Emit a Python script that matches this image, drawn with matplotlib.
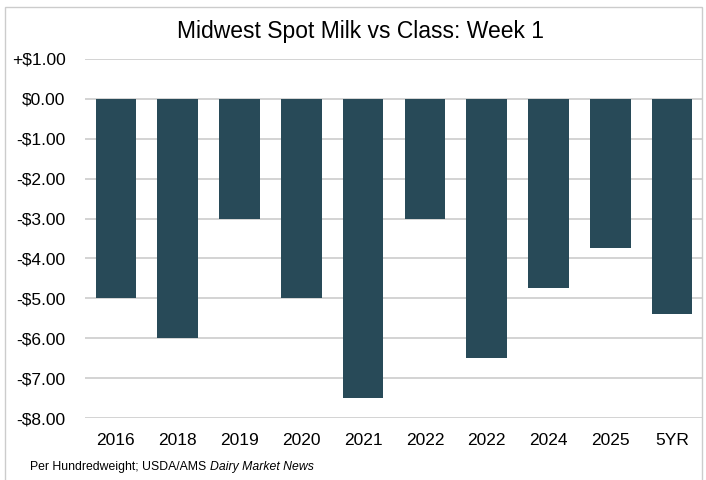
import matplotlib
matplotlib.use("Agg")
import matplotlib.pyplot as plt
from matplotlib.patches import Rectangle

categories = ["2016", "2018", "2019", "2020", "2021", "2022", "2022", "2024", "2025", "5YR"]
values = [-5.0, -6.0, -3.0, -5.0, -7.5, -3.0, -6.5, -4.75, -3.75, -5.4]
yticks = [1, 0, -1, -2, -3, -4, -5, -6, -7, -8]
ytick_labels = ["+$1.00", "$0.00", "-$1.00", "-$2.00", "-$3.00", "-$4.00",
                "-$5.00", "-$6.00", "-$7.00", "-$8.00"]

plt.rcParams['font.family'] = ['Liberation Sans', 'DejaVu Sans']

fig = plt.figure(figsize=(7.06, 4.8), dpi=100)
ax = fig.add_axes([85 / 706, 62 / 480, 618 / 706, 359 / 480])

x = list(range(len(categories)))
ax.bar(x, values, width=0.66, color="#284a58", zorder=3)

ax.set_xlim(-0.5, len(categories) - 0.5)
ax.set_ylim(-8, 1)
ax.set_yticks(yticks)
ax.set_yticklabels(ytick_labels, fontsize=12.5)
ax.set_xticks(x)
ax.set_xticklabels(categories, fontsize=12.5)
ax.tick_params(length=0, pad=11)
ax.tick_params(axis='y', pad=14)
ax.yaxis.grid(True, color="#d0d0d0", linewidth=1.3, zorder=0)
for s in ax.spines.values():
    s.set_visible(False)

fig.text(0.51, 0.935, "Midwest Spot Milk vs Class: Week 1", ha="center", va="center",
         fontsize=16.5)
# footer: plain part then italic source name right after it
t1 = fig.text(30 / 706, 0.028, "Per Hundredweight; USDA/AMS ", fontsize=8.8, va="center")
ax.annotate("Dairy Market News", xy=(1, 0.5), xycoords=t1, va="center", ha="left",
            fontsize=8.8, style="italic", annotation_clip=False)

fig.patches.append(Rectangle((5 / 706, -0.01), 697 / 706, 1 - 7 / 480 + 0.01,
                             transform=fig.transFigure, fill=False,
                             edgecolor="#cccccc", linewidth=1))

fig.savefig("out.png", dpi=100)
